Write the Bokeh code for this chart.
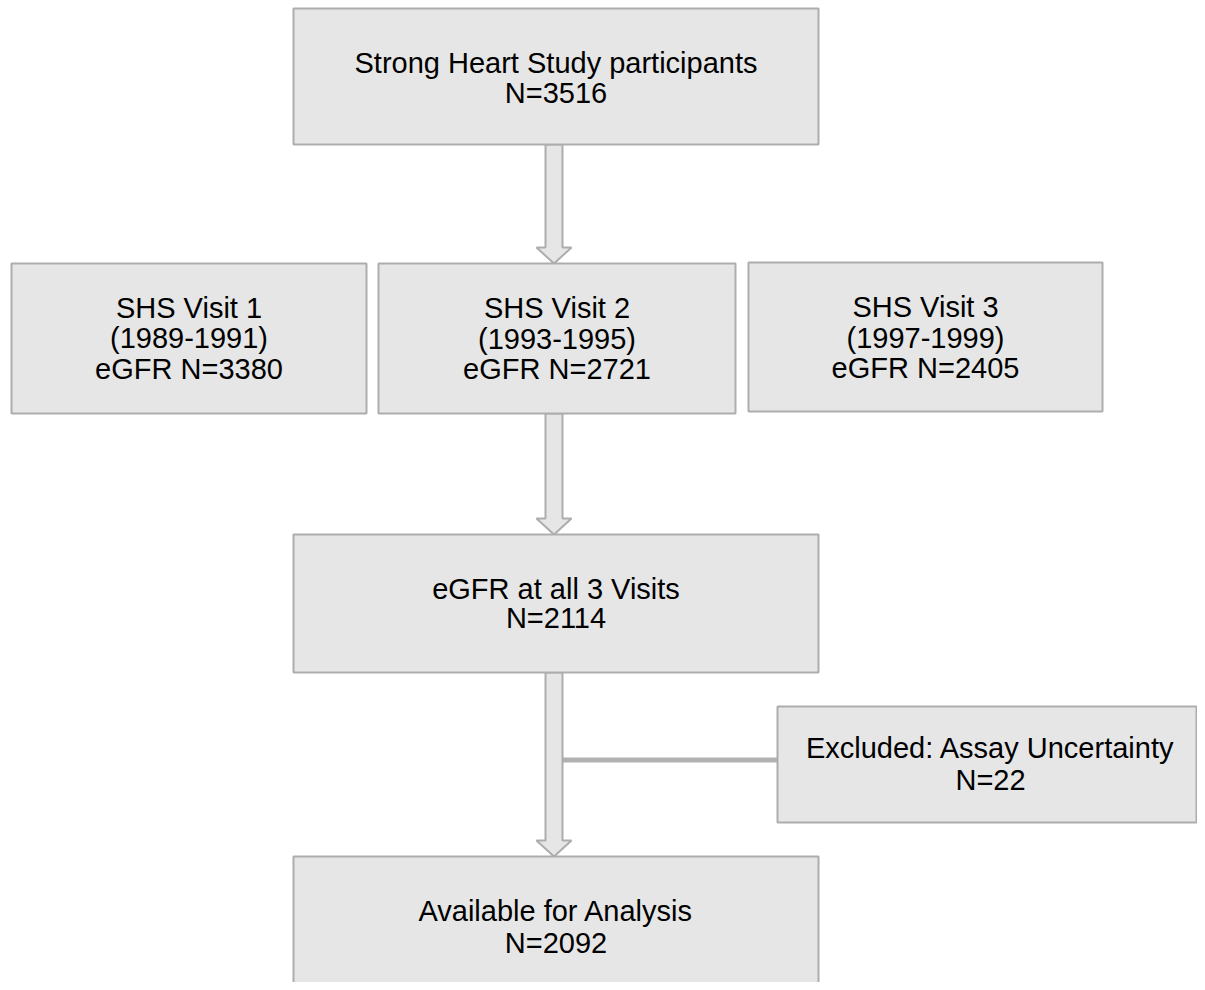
from bokeh.plotting import figure
from bokeh.models import Range1d, ColumnDataSource
from bokeh.core.properties import value
from bokeh.embed import file_html
from bokeh.resources import INLINE

# ---- content ----
box_labels = [
    ["Strong Heart Study participants", "N=3516"],
    ["SHS Visit 1", "(1989-1991)", "eGFR N=3380"],
    ["SHS Visit 2", "(1993-1995)", "eGFR N=2721"],
    ["SHS Visit 3", "(1997-1999)", "eGFR N=2405"],
    ["eGFR at all 3 Visits", "N=2114"],
    ["Excluded: Assay Uncertainty", "N=22"],
    ["Available for Analysis", "N=2092"],
]

# ---- layout (pixels) ----
box_left = [293, 11, 378, 748, 293, 777, 293]
box_right = [818, 366, 735, 1102, 818, 1196, 818]
box_top = [8, 263, 263, 262, 534, 706, 856]
box_bottom = [144, 413, 413, 411, 672, 822, 1010]
text_cx = [555.5, 188.5, 556.5, 925, 555.5, 990, 555.5]
line_ys = [
    [62, 92],
    [307, 337, 368],
    [307, 338, 368],
    [306, 337, 367],
    [588, 617],
    [747, 779],
    [910, 942],
]
# arrows: (center x, start y, tip y)
arrow_cx = [553.5, 553.5, 553.5]
arrow_y0 = [144, 413, 672]
arrow_y1 = [263, 534, 856]
SHAFT_HALF = 8.5
HEAD_HALF = 17.5
HEAD_LEN = 16

FILL = "#e6e6e6"
EDGE = "#adadad"

p = figure(width=1197, height=982, output_backend="svg", toolbar_location=None,
           x_range=Range1d(0, 1197), y_range=Range1d(982, 0),
           min_border=0, outline_line_color=None)
p.axis.visible = False
p.grid.visible = False
p.background_fill_color = "white"
p.border_fill_color = "white"

# connector to excluded box
p.segment(x0=[562], y0=[759.5], x1=[777], y1=[759.5], line_color="#b3b0b0", line_width=5)

# arrows
for cx, y0, y1 in zip(arrow_cx, arrow_y0, arrow_y1):
    hy = y1 - HEAD_LEN
    xs = [cx - SHAFT_HALF, cx + SHAFT_HALF, cx + SHAFT_HALF, cx + HEAD_HALF, cx,
          cx - HEAD_HALF, cx - SHAFT_HALF]
    ys = [y0, y0, hy, hy, y1, hy, hy]
    p.patch(xs, ys, fill_color=FILL, line_color=EDGE, line_width=2)

# boxes
src = ColumnDataSource(dict(left=box_left, right=box_right, top=box_top, bottom=box_bottom))
p.quad(left="left", right="right", top="top", bottom="bottom", source=src,
       fill_color=FILL, line_color=EDGE, line_width=2)

# texts
tx, ty, tt = [], [], []
for lab, ys, cx in zip(box_labels, line_ys, text_cx):
    for s, y in zip(lab, ys):
        tx.append(cx)
        ty.append(y)
        tt.append(s)
p.text(x=tx, y=ty, text=tt, text_align="center", text_baseline="middle",
       text_font=value("Liberation Sans"), text_font_size="29px", text_color="black")

open("out.html", "w").write(file_html(p, INLINE))
